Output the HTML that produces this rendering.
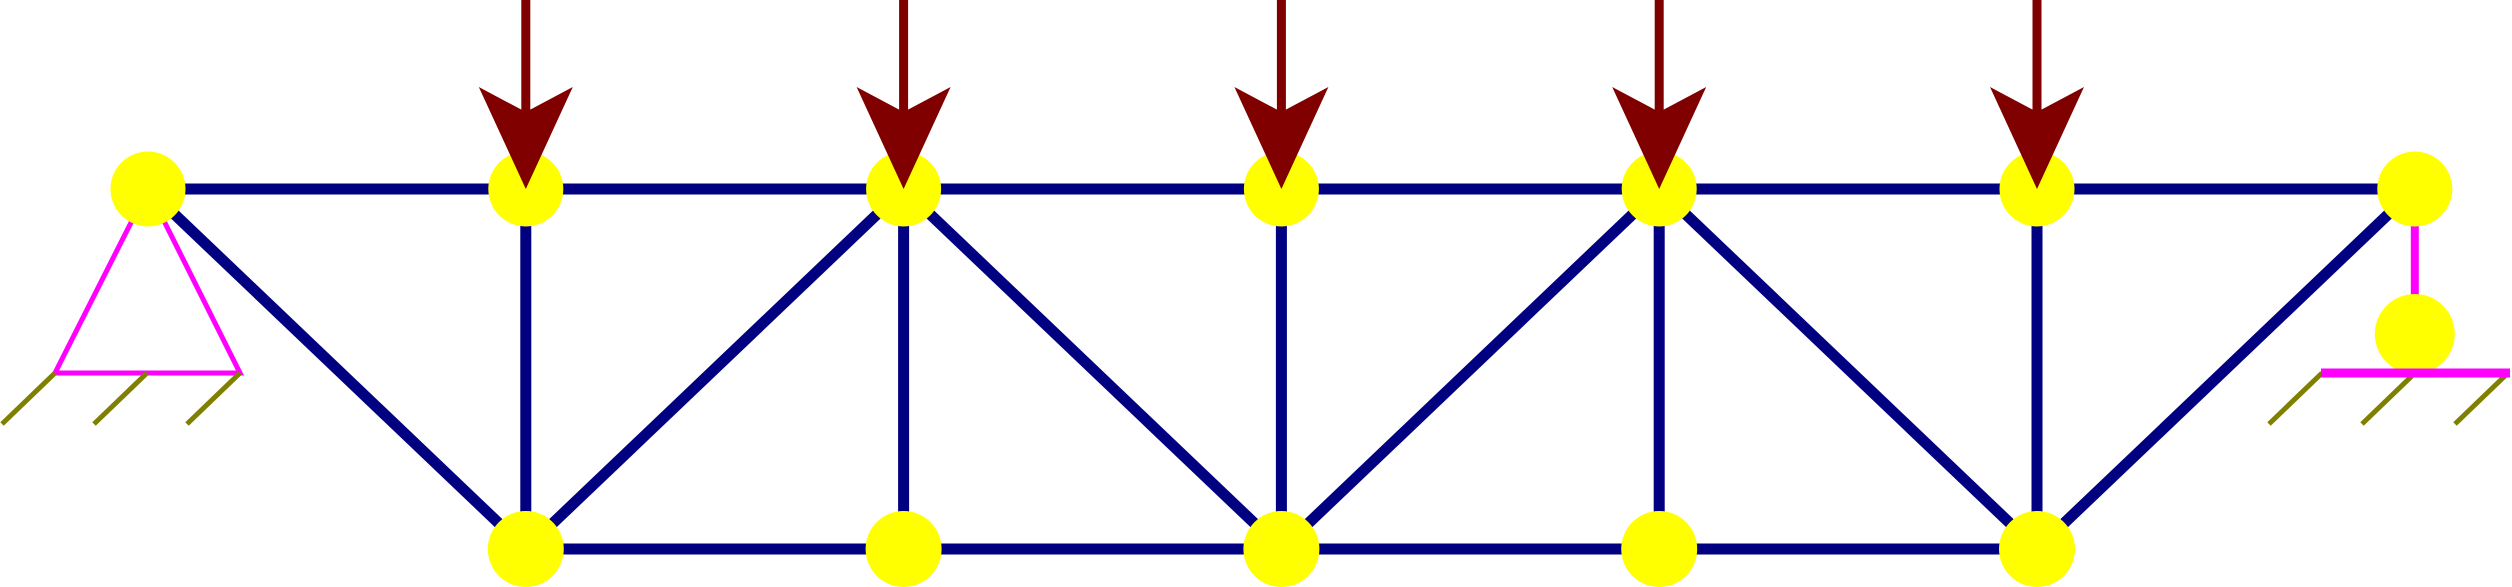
<!DOCTYPE html>
<html><head><meta charset="utf-8"><style>html,body{margin:0;padding:0;background:#fff}svg{display:block}</style></head>
<body>
<svg id="truss" width="2512" height="587" viewBox="0 0 2512 587" xmlns="http://www.w3.org/2000/svg">
<g id="members"></g><g id="supports"></g><g id="nodes"></g><g id="loads"></g>
</svg>
<script>
const panelCount = 6;
const topY = 189, botY = 549, x0 = 148, dx = 377.8;
const loadNodes = [1, 2, 3, 4, 5];
const bottomNodes = [1, 2, 3, 4, 5];
const diagonals = [[0,'t',1,'b'],[1,'b',2,'t'],[2,'t',3,'b'],[3,'b',4,'t'],[4,'t',5,'b'],[5,'b',6,'t']];
const NS = 'http://www.w3.org/2000/svg';
function X(i){return x0 + i*dx;}
function Y(l){return l==='t'?topY:botY;}
function mk(tag, attrs, parent){const e=document.createElementNS(NS,tag);for(const k in attrs)e.setAttribute(k,attrs[k]);document.getElementById(parent).appendChild(e);return e;}
const navy='#000080';
let e;
e=mk('line',{x1:X(0),y1:topY,x2:X(panelCount),y2:topY,stroke:navy,'stroke-width':11},'members');


e=mk('line',{x1:X(1),y1:botY,x2:X(5),y2:botY,stroke:navy,'stroke-width':11},'members');


bottomNodes.forEach(i=>{
  const v=mk('line',{x1:X(i),y1:topY,x2:X(i),y2:botY,stroke:navy,'stroke-width':11},'members');
  
  
});
diagonals.forEach(d=>{
  const v=mk('line',{x1:X(d[0]),y1:Y(d[1]),x2:X(d[2]),y2:Y(d[3]),stroke:navy,'stroke-width':11},'members');
  
  
});
e=mk('polygon',{points:`${X(0)},${topY} 55,373 240,373`,fill:'none',stroke:'#ff00ff','stroke-width':5},'supports');


[55,147,240].forEach(x=>{
  const h=mk('line',{x1:x,y1:373,x2:x-53,y2:424,stroke:'#808000','stroke-width':5},'supports');
  
  
});
e=mk('line',{x1:X(6),y1:topY,x2:X(6),y2:334,stroke:'#ff00ff','stroke-width':8},'supports');


e=mk('circle',{cx:X(6),cy:334,r:40,fill:'#ffff00'},'supports');


[2322,2415,2508].forEach(x=>{
  const h=mk('line',{x1:x,y1:373,x2:x-53,y2:424,stroke:'#808000','stroke-width':5},'supports');
  
  
});
e=mk('line',{x1:2321,y1:373,x2:2510,y2:373,stroke:'#ff00ff','stroke-width':9},'supports');


for(let i=0;i<=panelCount;i++){
  const c=mk('circle',{cx:X(i),cy:topY,r:37.5,fill:'#ffff00'},'nodes');
  
  
}
bottomNodes.forEach(i=>{
  const c=mk('circle',{cx:X(i),cy:botY,r:38,fill:'#ffff00'},'nodes');
  
  
});
loadNodes.forEach(i=>{
  const x=X(i);
  const s=mk('line',{x1:x,y1:0,x2:x,y2:120,stroke:'#800000','stroke-width':9},'loads');
  
  
  const h=mk('polygon',{points:`${x-47},87 ${x},112 ${x+47},87 ${x},${topY}`,fill:'#800000'},'loads');
  
  
});
</script>
</body></html>
